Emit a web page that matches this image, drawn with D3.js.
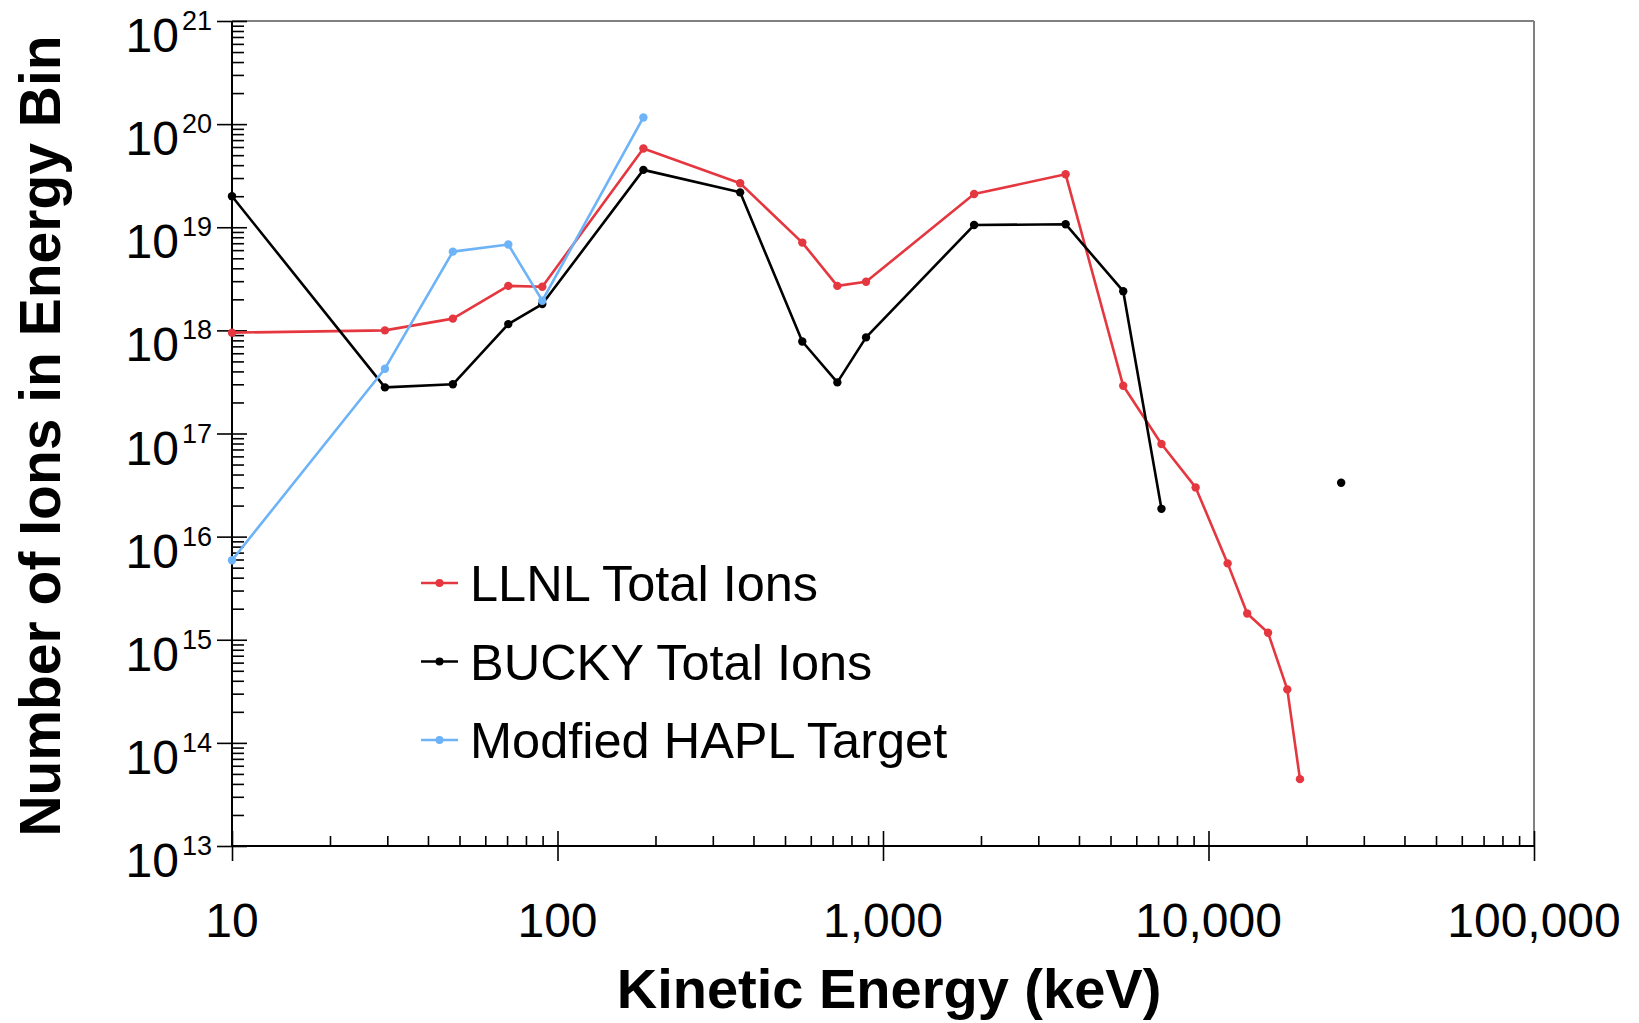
<!DOCTYPE html>
<html>
<head>
<meta charset="utf-8">
<script src="https://cdn.jsdelivr.net/npm/d3@7"></script>
<style>
  html, body { margin: 0; padding: 0; background: #fff; }
  svg { display: block; font-family: Arial, "Liberation Sans", Helvetica, sans-serif; }
</style>
</head>
<body>
<svg id="chart" width="1639" height="1023"></svg>
<script>
// energy bins (keV)
var energy = [10, 29.5, 47.7, 70.6, 89.8, 183.6, 364, 565, 724, 887, 1905, 3640, 5470, 7170, 9130, 11450, 13150, 15240, 17460, 19100];
// LLNL total ions per bin
var llnl = [9.5e17, 1.0e18, 1.3e18, 2.7e18, 2.65e18, 5.8e19, 2.67e19, 7.1e18, 2.7e18, 2.96e18, 2.1e19, 3.26e19, 2.9e17, 7.9e16, 3.0e16, 5.5e15, 1.8e15, 1.17e15, 3.3e14, 4.45e13];
// BUCKY total ions (empty bin before the lone high energy point)
var buckyEnergy = [10, 29.5, 47.7, 70.6, 89.8, 183.6, 364, 565, 724, 887, 1905, 3640, 5470, 7170, 9130, 25560];
var bucky = [2.0e19, 2.8e17, 3.0e17, 1.15e18, 1.8e18, 3.6e19, 2.18e19, 7.8e17, 3.13e17, 8.55e17, 1.05e19, 1.07e19, 2.4e18, 1.86e16, null, 3.33e16];
// modified HAPL target
var haplEnergy = [10, 29.5, 47.7, 70.6, 89.8, 183.6];
var hapl = [5.9e15, 4.25e17, 5.8e18, 6.8e18, 1.94e18, 1.16e20];

var xTicks = [10, 100, 1000, 10000, 100000];
var yExps = [13, 14, 15, 16, 17, 18, 19, 20, 21];

var seriesNames = ["LLNL Total Ions", "BUCKY Total Ions", "Modfied HAPL Target"];
var seriesColors = ["#e5373f", "#000000", "#6db3f7"];

// layout (plot box in pixels)
var pLeft = 232, pRight = 1534, pTop = 21, pBottom = 846;

var svg = d3.select("#chart");
var x = d3.scaleLog().domain([10, 100000]).range([pLeft, pRight]);
var y = d3.scaleLog().domain([1e13, 1e21]).range([pBottom, pTop]);

// minor tick values 2..9 per decade
function minors(lo, hi) {
    var out = [];
    for (var e = lo; e < hi; e++)
        for (var k = 2; k <= 9; k++) out.push(k * Math.pow(10, e));
    return out;
}

// frame: top and right in grey
svg.append("line").attr("x1", pLeft).attr("x2", pRight).attr("y1", pTop).attr("y2", pTop)
    .attr("stroke", "#808080").attr("stroke-width", 2);
svg.append("line").attr("x1", pRight).attr("x2", pRight).attr("y1", pTop).attr("y2", pBottom)
    .attr("stroke", "#808080").attr("stroke-width", 2);

function styleAxis(g) {
    g.selectAll("path").remove();
    g.selectAll("line").attr("stroke", "#000").attr("stroke-width", 1.6);
}

// x axis: major ticks crossing, minor ticks inside
var gx = svg.append("g").attr("transform", "translate(0," + pBottom + ")");
gx.append("g").call(d3.axisBottom(x).tickValues(xTicks).tickSize(15).tickFormat("")).call(styleAxis);
gx.append("g").call(d3.axisBottom(x).tickValues(xTicks).tickSize(-15).tickFormat("")).call(styleAxis);
gx.append("g").call(d3.axisBottom(x).tickValues(minors(1, 5)).tickSize(-10).tickFormat("")).call(styleAxis);
gx.append("line").attr("x1", pLeft).attr("x2", pRight).attr("stroke", "#000").attr("stroke-width", 2);

var fmt = d3.format(",");
gx.selectAll(".xlab").data(xTicks).enter().append("text")
    .attr("x", function (d) { return x(d); })
    .attr("y", 91)
    .attr("text-anchor", "middle")
    .style("font-size", "48px")
    .text(function (d) { return fmt(d); });

// y axis
var gy = svg.append("g").attr("transform", "translate(" + pLeft + ",0)");
var yMajor = yExps.map(function (e) { return Math.pow(10, e); });
gy.append("g").call(d3.axisLeft(y).tickValues(yMajor).tickSize(15).tickFormat("")).call(styleAxis);
gy.append("g").call(d3.axisLeft(y).tickValues(yMajor).tickSize(-15).tickFormat("")).call(styleAxis);
gy.append("g").call(d3.axisLeft(y).tickValues(minors(13, 21)).tickSize(-12).tickFormat("")).call(styleAxis);
gy.append("line").attr("y1", pTop).attr("y2", pBottom).attr("stroke", "#000").attr("stroke-width", 2);

var ylab = gy.selectAll(".ylab").data(yExps).enter().append("g")
    .attr("transform", function (e) { return "translate(-20," + y(Math.pow(10, e)) + ")"; });
ylab.append("text")
    .attr("text-anchor", "end")
    .attr("y", 9)
    .style("font-size", "27px")
    .text(function (e) { return e; });
ylab.append("text")
    .attr("text-anchor", "end")
    .attr("x", -33)
    .attr("y", 31)
    .style("font-size", "48px")
    .text("10");

// axis titles
svg.append("text")
    .attr("x", 889).attr("y", 1008)
    .attr("text-anchor", "middle")
    .style("font-size", "56px").style("font-weight", "bold")
    .text("Kinetic Energy (keV)");
svg.append("text")
    .attr("transform", "translate(60,436) rotate(-90)")
    .attr("text-anchor", "middle")
    .style("font-size", "57px").style("font-weight", "bold")
    .text("Number of Ions in Energy Bin");

// series
var series = [
    { xs: energy, ys: llnl },
    { xs: buckyEnergy, ys: bucky },
    { xs: haplEnergy, ys: hapl }
];

var line = d3.line()
    .defined(function (d) { return d[1] != null; })
    .x(function (d) { return x(d[0]); })
    .y(function (d) { return y(d[1]); });

series.forEach(function (s, i) {
    var pts = s.xs.map(function (v, j) { return [v, s.ys[j]]; });
    svg.append("path").datum(pts)
        .attr("d", line)
        .attr("fill", "none")
        .attr("stroke", seriesColors[i])
        .attr("stroke-width", 2.6)
        .attr("stroke-linejoin", "round");
    svg.selectAll(".pt" + i).data(pts.filter(function (d) { return d[1] != null; }))
        .enter().append("circle")
        .attr("cx", function (d) { return x(d[0]); })
        .attr("cy", function (d) { return y(d[1]); })
        .attr("r", 4.2)
        .attr("fill", seriesColors[i]);
});

// legend
var legend = svg.selectAll(".leg").data(seriesNames).enter().append("g")
    .attr("transform", function (d, i) { return "translate(421," + (583 + i * 78.5) + ")"; });
legend.append("line")
    .attr("x1", 0).attr("x2", 37)
    .attr("stroke", function (d, i) { return seriesColors[i]; })
    .attr("stroke-width", 2.6);
legend.append("circle")
    .attr("cx", 18.5).attr("r", 4)
    .attr("fill", function (d, i) { return seriesColors[i]; });
legend.append("text")
    .attr("x", 49).attr("y", 18)
    .style("font-size", "50.5px")
    .text(function (d) { return d; });
</script>
</body>
</html>
